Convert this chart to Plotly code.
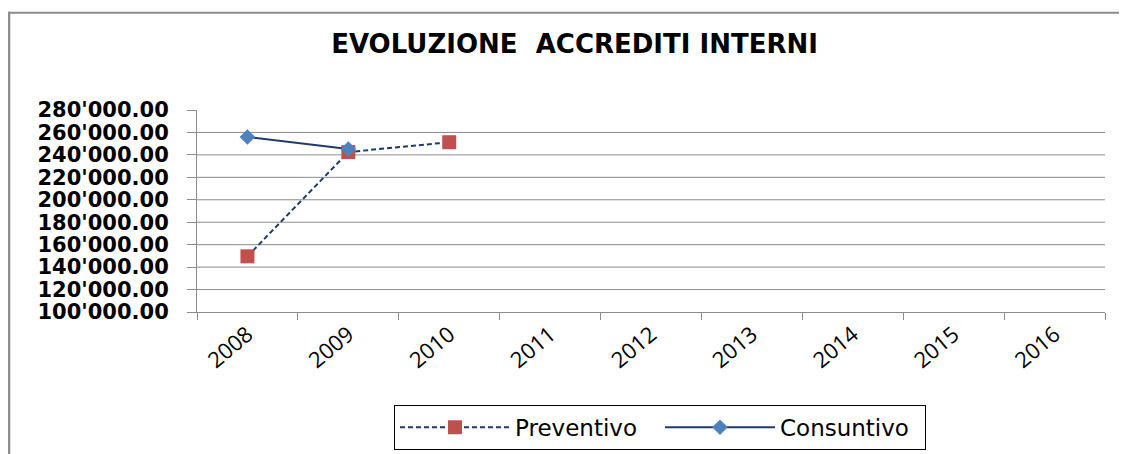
import plotly.graph_objects as go

# data
years = ["2008", "2009", "2010", "2011", "2012", "2013", "2014", "2015", "2016"]
preventivo_years = ["2008", "2009", "2010"]
preventivo = [149600, 242500, 251300]
consuntivo_years = ["2008", "2009"]
consuntivo = [255900, 245300]
y_ticks = [100000, 120000, 140000, 160000, 180000, 200000, 220000, 240000, 260000, 280000]
y_labels = ["%s'000.00" % (v // 1000) for v in y_ticks]

W, H = 1127, 454
OFF = 8  # the page body puts the figure 8px in from the window corner
L, R, T, B = 197 - OFF, 30, 109.5 - OFF, H - (314 - OFF)

fig = go.Figure()

fig.add_trace(go.Scatter(
    x=preventivo_years, y=preventivo,
    mode="lines+markers",
    name="Preventivo",
    line=dict(color="#1F3A6E", width=2, dash="5px,3px"),
    marker=dict(symbol="square", size=14, color="#C0504D"),
))
fig.add_trace(go.Scatter(
    x=consuntivo_years, y=consuntivo,
    mode="lines+markers",
    name="Consuntivo",
    line=dict(color="#1F3A6E", width=2),
    marker=dict(symbol="diamond", size=12, color="#4F81BD"),
))

# gridlines (no line at the top value, as in the reference)
grid = [dict(type="line", xref="paper", x0=0, x1=1, yref="y", y0=v, y1=v,
             line=dict(color="#8C8C8C", width=1), layer="below")
        for v in y_ticks[1:-1]]

# outer chart frame: top and left edges only (window pixel coords)
pw = W - L - R
ph = H - T - B
def px_x(p):
    return (p - OFF - L) / pw
def px_y(p):
    return (H - B - (p - OFF)) / ph
frame = [
    dict(type="line", xref="paper", yref="paper", x0=px_x(4), x1=px_x(1140),
         y0=px_y(11), y1=px_y(11), line=dict(color="#8C8C8C", width=2)),
    dict(type="line", xref="paper", yref="paper", x0=px_x(8.8), x1=px_x(8.8),
         y0=px_y(10), y1=px_y(470), line=dict(color="#8C8C8C", width=3)),
]

fig.update_layout(
    width=W, height=H,
    margin=dict(l=L, r=R, t=T, b=B),
    paper_bgcolor="white", plot_bgcolor="white",
    title=dict(text="EVOLUZIONE  ACCREDITI INTERNI", xref="container",
               x=(574.5 - OFF) / W, xanchor="center",
               y=1 - (44 - OFF) / H, yanchor="middle",
               font=dict(family="DejaVu Sans", size=26, color="black", weight="bold")),
    xaxis=dict(
        type="category", categoryorder="array", categoryarray=years,
        range=[-0.5, 8.5], tickson="boundaries",
        showline=True, linecolor="#8C8C8C", linewidth=1,
        ticks="outside", ticklen=7, tickcolor="#8C8C8C",
        showgrid=False, tickangle=-40,
        tickfont=dict(family="Open Sans", size=22, color="black"),
    ),
    yaxis=dict(
        range=[100000, 280000], tickvals=y_ticks, ticktext=y_labels,
        showline=True, linecolor="#8C8C8C", linewidth=1,
        ticks="outside", ticklen=9, tickcolor="#8C8C8C",
        showgrid=False, zeroline=False, ticklabelstandoff=14,
        tickfont=dict(family="DejaVu Sans", size=21, color="black", weight="bold"),
    ),
    legend=dict(
        orientation="h", x=px_x(394), xanchor="left", y=px_y(408), yanchor="top",
        bordercolor="black", borderwidth=1, itemwidth=110, entrywidth=140,
        font=dict(family="DejaVu Sans", size=23, color="black"),
    ),
    shapes=grid + frame,
)

fig.write_html("out.html")
